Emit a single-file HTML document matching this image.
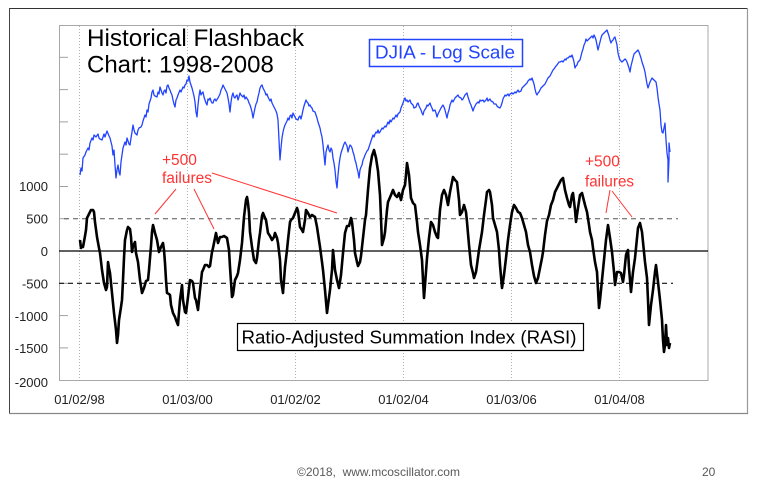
<!DOCTYPE html>
<html>
<head>
<meta charset="utf-8">
<style>
  html,body{margin:0;padding:0;background:#fff;}
  svg{display:block;}
  text{font-family:"Liberation Sans",Arial,sans-serif;}
</style>
</head>
<body>
<svg width="758" height="489" viewBox="0 0 758 489" xmlns="http://www.w3.org/2000/svg">
  <rect x="0" y="0" width="758" height="489" fill="#fff"/>
  <!-- outer frame -->
  <line x1="9" y1="8.5" x2="748" y2="8.5" stroke="#333" stroke-width="1"/>
  <line x1="9.5" y1="8" x2="9.5" y2="414" stroke="#444" stroke-width="1"/>
  <line x1="747.5" y1="8" x2="747.5" y2="414" stroke="#999" stroke-width="1.2"/>
  <line x1="9" y1="413.5" x2="748" y2="413.5" stroke="#888" stroke-width="1.2"/>

  <!-- plot area -->
  <rect x="59.5" y="25.5" width="648.5" height="355" fill="#fff" stroke="#a8a8a8" stroke-width="1"/>

  <!-- vertical dotted gridlines -->
  <g stroke="#b0b0b0" stroke-width="1" stroke-dasharray="1,2">
    <line x1="79.5" y1="26" x2="79.5" y2="380"/>
    <line x1="187.5" y1="26" x2="187.5" y2="380"/>
    <line x1="295.5" y1="26" x2="295.5" y2="380"/>
    <line x1="403.5" y1="26" x2="403.5" y2="380"/>
    <line x1="511.5" y1="26" x2="511.5" y2="380"/>
    <line x1="619.5" y1="26" x2="619.5" y2="380"/>
  </g>

  <!-- y ticks (inside) -->
  <g stroke="#a0a0a0" stroke-width="1">
    <line x1="59" y1="57.3" x2="68" y2="57.3"/>
    <line x1="59" y1="89.6" x2="68" y2="89.6"/>
    <line x1="59" y1="121.9" x2="68" y2="121.9"/>
    <line x1="59" y1="154.2" x2="68" y2="154.2"/>
    <line x1="59" y1="186.5" x2="68" y2="186.5"/>
    <line x1="59" y1="218.7" x2="68" y2="218.7"/>
    <line x1="59" y1="283.3" x2="68" y2="283.3"/>
    <line x1="59" y1="315.6" x2="68" y2="315.6"/>
    <line x1="59" y1="347.9" x2="68" y2="347.9"/>
  </g>

  <!-- y labels -->
  <g font-size="13" fill="#222" text-anchor="end">
    <text x="48" y="191">1000</text>
    <text x="48" y="223.5">500</text>
    <text x="48" y="256">0</text>
    <text x="48" y="288.5">-500</text>
    <text x="48" y="321">-1000</text>
    <text x="48" y="353">-1500</text>
    <text x="48" y="387">-2000</text>
  </g>

  <!-- x labels -->
  <g font-size="13" fill="#222" text-anchor="middle">
    <text x="79.5" y="404">01/02/98</text>
    <text x="187.5" y="404">01/03/00</text>
    <text x="295.5" y="404">01/02/02</text>
    <text x="403.5" y="404">01/02/04</text>
    <text x="511.5" y="404">01/03/06</text>
    <text x="619.5" y="404">01/04/08</text>
  </g>

  <!-- reference lines -->
  <line x1="64" y1="218.7" x2="678" y2="218.7" stroke="#555" stroke-width="1" stroke-dasharray="5,4"/>
  <line x1="59" y1="283.3" x2="673" y2="283.3" stroke="#111" stroke-width="1.2" stroke-dasharray="5,4"/>
  <line x1="59" y1="251" x2="708" y2="251" stroke="#000" stroke-width="1.2"/>

  <!-- DJIA line -->
  <polyline fill="none" stroke="#2244ff" stroke-width="1.3" stroke-linejoin="round" points="
80,175 81,168 82,171 83,158 85,155 86,152 88,148 89,150 90,143 92,138 93,140 94,135 96,137 98,134 99,138 100,139 102,140 104,134 105,137 107,131 109,136 110,138 111,142 112,146 113,155 114,150 115,165 116,178 117,170 118,165 119,172 120,175 121,162 122,155 123,148 125,142 126,145 127,138 129,144 130,145 131,138 132,132 133,125 134,130 135,133 137,135 138,130 139,128 141,127 142,125 143,121 144,118 145,115 146,117 147,110 148,112 149,104 150,101 151,98 152,92 153,90 154,95 155,96 157,97 158,92 159,94 160,87 161,90 162,93 163,95 164,91 165,90 166,93 167,86 168,85 169,88 170,90 171,93 172,95 173,100 174,104 175,107 176,100 177,98 178,95 180,90 181,92 183,87 184,88 185,85 186,84 187,80 188,81 189,76 190,82 191,85 192,88 193,92 194,96 195,102 196,112 197,117 198,105 199,96 200,90 201,95 202,93 203,92 204,97 205,100 206,103 207,105 208,99 209,100 210,98 211,101 212,103 213,103 214,100 215,99 216,101 218,98 219,96 220,94 221,90 222,88 223,85 224,87 225,89 226,91 227,93 228,98 229,104 230,112 231,102 232,96 233,93 234,97 235,98 236,96 237,95 238,100 239,97 240,93 241,95 243,97 244,95 245,99 246,97 248,100 249,103 250,105 251,108 252,112 253,118 254,113 255,108 256,104 257,102 258,97 259,93 260,88 261,86 262,85 263,88 264,90 265,92 266,95 267,94 268,97 269,99 270,101 271,99 272,103 273,105 274,107 275,109 276,111 277,114 278,120 279,140 280,160 281,148 282,138 283,132 284,128 285,125 286,123 287,121 288,118 289,120 290,116 291,115 292,118 293,113 294,115 295,117 296,119 298,120 299,117 300,116 301,119 302,115 303,110 304,106 305,103 306,100 307,102 308,103 309,106 310,105 311,107 312,108 313,111 315,112 316,115 317,118 318,122 320,128 321,133 322,137 323,145 324,155 325,165 326,152 327,148 328,145 329,150 330,152 331,148 332,150 333,158 334,163 335,170 336,181 337,188 338,175 339,165 340,158 341,153 342,150 343,147 344,144 345,142 346,144 347,146 348,152 349,148 350,145 351,146 352,148 353,152 354,155 355,160 356,163 357,168 358,172 359,178 360,170 361,167 362,165 363,160 364,158 365,155 366,153 367,151 368,150 369,147 370,144 371,141 372,138 373,135 374,137 375,134 376,132 377,133 378,130 379,133 380,132 381,130 382,128 383,129 385,126 386,127 388,122 389,124 390,120 391,122 393,118 394,119 396,115 397,117 398,114 400,112 401,108 403,103 404,100 405,98 406,101 407,100 408,102 410,100 411,103 413,105 414,108 416,107 417,104 418,103 419,106 421,110 422,113 423,115 424,111 426,108 427,105 428,106 430,103 431,106 432,108 433,111 435,110 436,113 437,117 438,114 440,110 441,108 443,105 444,107 445,110 446,114 447,118 448,113 449,110 450,105 452,100 453,102 455,98 456,97 458,95 459,97 461,98 462,100 463,99 464,97 465,95 466,94 467,93 468,97 469,100 470,103 471,105 472,108 473,111 474,108 475,106 476,104 478,102 479,103 480,100 481,101 483,100 484,102 486,100 487,98 488,101 490,99 491,101 493,102 494,104 496,104 497,106 498,107 500,108 501,106 502,103 503,99 505,95 506,96 508,94 509,96 510,94 512,93 513,94 515,92 516,93 518,90 519,92 521,91 522,88 524,86 525,85 527,83 528,81 530,79 531,80 532,78 533,81 534,84 535,89 536,93 537,95 538,93 539,92 540,90 541,88 542,87 544,85 545,84 547,80 548,78 550,76 551,74 553,70 554,69 556,66 557,65 559,62 560,62 562,61 563,62 565,59 566,60 567,58 568,58 570,56 571,57 572,55 573,58 574,62 575,68 576,66 577,65 578,62 580,60 581,56 582,52 583,49 584,45 585,43 586,39 587,41 588,40 589,39 590,38 591,37 592,36 593,38 594,35 595,37 596,40 597,45 598,50 599,46 600,42 601,38 602,35 603,34 604,33 605,32 606,31 607,30 608,33 609,36 610,40 611,43 612,41 613,40 614,38 615,37 616,41 617,45 618,53 619,57 620,60 621,61 622,62 623,61 624,60 625,59 626,60 627,62 628,65 629,68 630,72 631,66 632,62 633,58 634,54 635,53 636,52 637,51 638,50 639,52 640,55 641,58 642,62 643,65 644,68 645,72 646,78 647,84 648,88 649,85 650,82 651,80 652,78 653,79 654,80 655,81 656,82 657,88 658,97 659,104 660,110 661,125 662,132 663,133 664,128 665,123 666,140 667,153 668,160 668,182 669,160 669,143 670,152"/>

  <!-- RASI line -->
  <polyline fill="none" stroke="#000" stroke-width="2.6" stroke-linejoin="round" points="
80,240 81,248 82,246 83,247 85,236 86,230 87,218 89,214 91,210 93,210 94,212 95,222 97,237 99,248 100,253 102,270 104,283 106,290 107,287 108,262 109,268 110,273 112,293 114,313 116,330 117,343 118,335 119,320 121,307 122,300 123,280 124,258 125,240 127,230 128,227 130,229 131,237 132,252 133,246 135,242 136,253 138,262 140,280 142,293 144,288 146,281 148,280 149,270 151,246 152,232 153,225 155,233 157,240 159,252 161,247 163,243 164,250 165,263 166,280 167,293 169,294 170,295 171,305 173,313 175,317 176,320 178,325 179,312 180,300 182,285 183,300 185,312 186,313 188,297 190,280 192,281 193,283 195,298 196,300 198,310 199,300 200,290 202,272 203,270 205,265 207,265 209,267 210,266 212,252 213,248 215,238 216,233 217,238 218,243 220,237 222,237 224,236 227,238 229,250 230,267 232,297 233,295 235,280 237,276 238,273 240,260 242,243 243,230 244,217 246,200 247,197 248,203 249,213 250,232 252,247 254,260 256,263 257,258 259,240 260,233 262,216 263,213 265,218 266,220 268,233 270,236 272,240 274,237 275,233 277,238 278,243 280,260 281,280 283,293 284,280 285,267 287,250 288,240 290,222 291,220 293,218 295,213 297,208 298,211 300,227 302,230 303,232 305,220 306,210 308,213 310,217 312,215 315,217 317,227 320,247 322,262 323,270 325,290 327,313 328,305 330,290 332,270 333,250 335,270 337,280 339,288 341,275 343,253 345,233 347,226 349,226 351,218 352,222 354,240 355,253 357,262 358,266 360,262 361,256 363,238 365,220 366,215 368,190 370,168 372,156 374,150 376,158 378,171 380,195 381,218 382,245 384,238 385,232 387,210 388,202 391,195 393,190 395,195 397,197 399,193 401,200 403,190 405,185 406,175 407,163 409,175 411,198 413,203 415,205 417,222 418,232 420,245 422,260 423,280 424,298 425,285 427,258 429,238 431,222 433,225 435,232 437,237 438,238 440,210 442,195 444,190 446,195 448,205 450,192 452,182 453,177 455,180 457,182 459,200 460,215 462,212 464,205 466,212 467,222 469,245 471,265 473,273 474,278 476,272 477,265 479,250 482,232 484,215 486,200 487,192 489,190 490,192 492,205 493,218 495,225 497,232 499,250 500,265 502,288 504,275 506,258 508,240 510,225 512,212 514,205 516,208 518,212 520,213 522,218 524,225 526,232 528,245 530,252 532,265 534,276 536,283 538,278 540,268 542,258 543,252 545,235 547,221 549,215 551,205 553,200 555,192 557,188 559,184 561,180 563,178 565,190 567,198 569,205 570,207 572,195 573,193 575,210 576,222 578,208 580,195 582,193 583,197 585,205 587,212 589,225 590,232 592,240 593,248 595,262 597,272 599,308 600,300 601,290 603,270 605,250 606,240 608,225 610,238 612,252 614,272 615,285 617,272 619,272 621,273 623,282 624,275 626,255 627,252 628,250 629,268 631,292 633,272 635,258 637,238 638,228 640,223 642,232 644,252 645,262 647,278 648,300 649,325 651,305 653,290 655,272 656,265 658,282 660,300 662,320 663,340 664,352 665,345 666,325 667,345 668,338 669,348 670,343"/>

  <!-- Title -->
  <text x="87" y="46" font-size="24" fill="#000" textLength="217" lengthAdjust="spacingAndGlyphs">Historical Flashback</text>
  <text x="87" y="72.5" font-size="24" fill="#000">Chart: 1998-2008</text>

  <!-- DJIA label box -->
  <rect x="369.5" y="39.5" width="153" height="27" fill="#fff" stroke="#2244ff" stroke-width="1.5"/>
  <text x="375" y="58.3" font-size="18.5" fill="#2244ff" textLength="140" lengthAdjust="spacingAndGlyphs">DJIA - Log Scale</text>

  <!-- RASI label box -->
  <rect x="237.5" y="323.5" width="346" height="27" fill="#fff" stroke="#000" stroke-width="1.2"/>
  <text x="241.5" y="343.4" font-size="18.7" fill="#000" textLength="335" lengthAdjust="spacingAndGlyphs">Ratio-Adjusted Summation Index (RASI)</text>

  <!-- Red annotations -->
  <g fill="#ff3333" font-size="15.5">
    <text x="162" y="165">+500</text>
    <text x="162" y="183" textLength="50" lengthAdjust="spacingAndGlyphs">failures</text>
    <text x="585" y="166.5">+500</text>
    <text x="585" y="186.5" textLength="49" lengthAdjust="spacingAndGlyphs">failures</text>
  </g>
  <g stroke="#ff3333" stroke-width="1" fill="none">
    <line x1="176" y1="189" x2="155" y2="214"/>
    <line x1="194" y1="189" x2="214" y2="229"/>
    <line x1="212" y1="173" x2="337" y2="213"/>
    <line x1="610" y1="190" x2="606" y2="213"/>
    <line x1="612" y1="191" x2="632" y2="217"/>
  </g>

  <!-- Footer -->
  <text x="297" y="476" font-size="12" fill="#595959" textLength="163" lengthAdjust="spacingAndGlyphs">©2018,&#160; www.mcoscillator.com</text>
  <text x="702" y="476" font-size="12" fill="#595959">20</text>
</svg>
</body>
</html>
